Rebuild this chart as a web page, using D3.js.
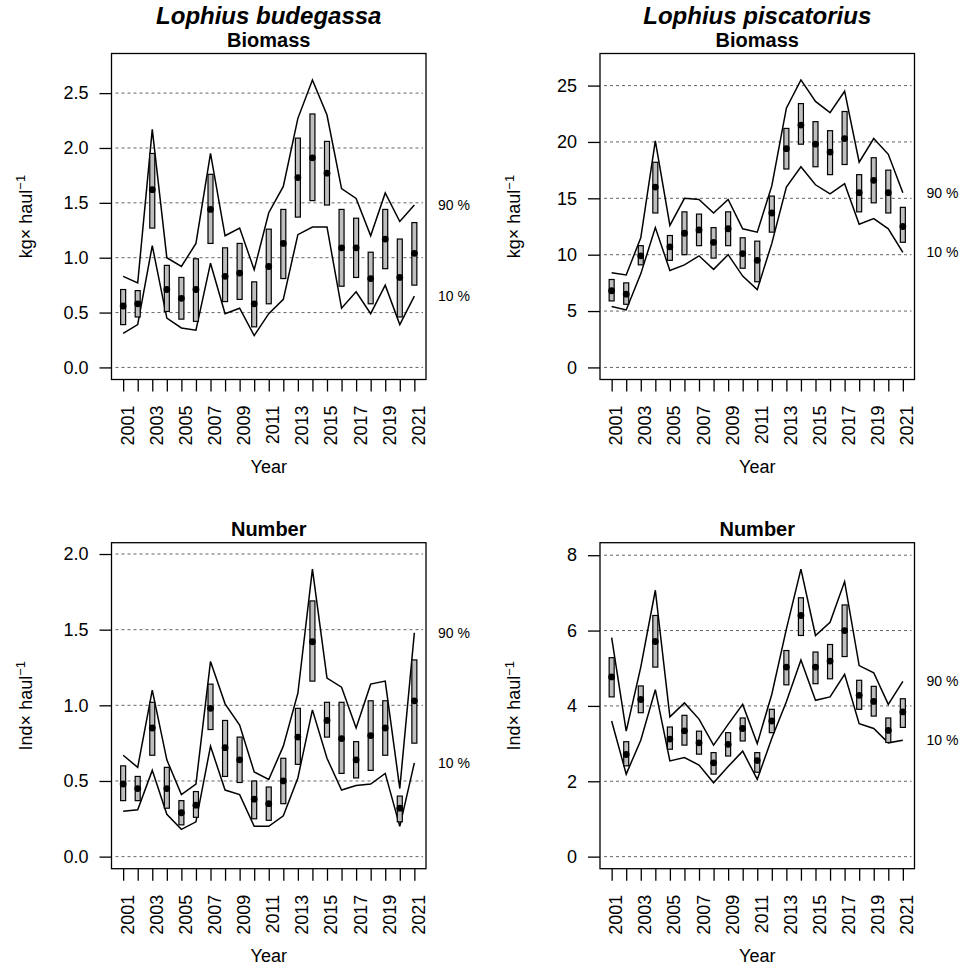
<!DOCTYPE html>
<html>
<head>
<meta charset="utf-8">
<script src="https://cdn.jsdelivr.net/npm/d3@7"></script>
<style>
  body { margin: 0; background: #fff; }
  text { font-family: "Liberation Sans", Arial, sans-serif; fill: #000; }
</style>
</head>
<body>
<script>
const w = 962
const h = 967

const years = d3.range(2001, 2022)
const yearLabels = years.filter(y => y % 2 === 1)

// Lophius budegassa - biomass
const budBioMean = [0.56,0.58,1.62,0.71,0.63,0.71,1.44,0.83,0.86,0.58,0.92,1.13,1.73,1.91,1.77,1.09,1.09,0.81,1.17,0.82,1.04]
const budBioLo   = [0.39,0.46,1.27,0.51,0.44,0.42,1.13,0.60,0.62,0.37,0.58,0.81,1.37,1.52,1.48,0.74,0.82,0.58,0.90,0.46,0.75]
const budBioHi   = [0.71,0.70,1.95,0.93,0.82,0.99,1.76,1.09,1.13,0.78,1.26,1.44,2.09,2.31,2.06,1.44,1.36,1.05,1.44,1.17,1.32]
const budBioP10  = [0.31,0.39,1.11,0.45,0.36,0.34,0.95,0.49,0.54,0.29,0.49,0.62,1.21,1.28,1.28,0.54,0.69,0.49,0.75,0.39,0.65]
const budBioP90  = [0.83,0.77,2.17,1.00,0.92,1.13,1.95,1.20,1.27,0.89,1.41,1.65,2.27,2.62,2.30,1.63,1.54,1.20,1.59,1.33,1.48]

// Lophius piscatorius - biomass
const pisBioMean = [6.8,6.5,9.9,16.0,10.7,11.9,12.2,11.1,12.3,10.1,9.5,13.7,19.4,21.5,19.8,19.1,20.3,15.5,16.6,15.5,12.5]
const pisBioLo   = [5.9,5.6,9.1,13.7,9.5,10.0,10.8,9.7,10.8,8.8,7.6,12.0,17.6,19.8,17.8,17.1,18.0,13.8,14.6,13.7,11.1]
const pisBioHi   = [7.8,7.5,10.8,18.2,11.7,13.8,13.6,12.4,13.8,11.5,11.2,15.2,21.2,23.4,21.8,21.0,22.7,17.1,18.6,17.5,14.2]
const pisBioP10  = [5.4,5.1,8.3,12.4,8.6,9.1,9.9,8.7,10.0,8.1,6.9,11.0,16.0,17.8,16.2,15.4,16.3,12.7,13.2,12.3,10.2]
const pisBioP90  = [8.4,8.2,11.5,20.1,12.6,15.0,14.9,13.7,14.9,12.3,12.0,16.1,23.0,25.5,23.6,22.6,24.5,18.2,20.3,18.9,15.5]

// Lophius budegassa - number
const budNumMean = [0.48,0.45,0.85,0.45,0.29,0.34,0.98,0.72,0.64,0.38,0.35,0.50,0.79,1.42,0.90,0.78,0.64,0.80,0.85,0.32,1.03]
const budNumLo   = [0.37,0.37,0.67,0.32,0.21,0.26,0.84,0.53,0.49,0.25,0.24,0.35,0.61,1.16,0.79,0.55,0.52,0.57,0.67,0.23,0.75]
const budNumHi   = [0.60,0.53,1.02,0.59,0.37,0.43,1.14,0.90,0.79,0.50,0.46,0.65,0.98,1.69,1.02,1.02,0.76,1.03,1.03,0.40,1.30]
const budNumP10  = [0.30,0.31,0.57,0.28,0.18,0.23,0.73,0.44,0.41,0.20,0.20,0.27,0.52,0.97,0.65,0.44,0.47,0.48,0.55,0.20,0.62]
const budNumP90  = [0.67,0.59,1.10,0.64,0.41,0.48,1.29,1.01,0.87,0.56,0.51,0.73,1.08,1.90,1.18,1.12,0.85,1.14,1.16,0.45,1.48]

// Lophius piscatorius - number
const pisNumMean = [4.77,2.71,4.17,5.71,3.12,3.34,3.02,2.49,2.98,3.40,2.55,3.60,5.03,6.40,5.03,5.19,6.00,4.28,4.12,3.35,3.84]
const pisNumLo   = [4.24,2.41,3.82,5.03,2.85,2.96,2.72,2.19,2.67,3.07,2.24,3.29,4.56,5.87,4.59,4.72,5.31,3.91,3.73,3.03,3.43]
const pisNumHi   = [5.28,3.05,4.53,6.40,3.44,3.75,3.33,2.76,3.29,3.68,2.76,3.91,5.47,6.87,5.43,5.63,6.68,4.68,4.52,3.68,4.19]
const pisNumP10  = [3.60,2.19,3.09,4.43,2.54,2.63,2.43,1.96,2.39,2.80,2.05,3.14,4.11,5.22,4.15,4.24,4.84,3.53,3.40,3.02,3.09]
const pisNumP90  = [5.81,3.33,5.03,7.07,3.71,4.08,3.65,2.96,3.51,4.04,3.00,4.31,6.04,7.63,5.87,6.22,7.30,5.07,4.88,4.04,4.65]

const species = ["Lophius budegassa", "Lophius piscatorius"]
const subtitles = ["Biomass", "Number"]
const yUnits = ["kg", "Ind"]
const yTicks = [
  [[0, 0.5, 1, 1.5, 2, 2.5], [0, 5, 10, 15, 20, 25]],
  [[0, 0.5, 1, 1.5, 2], [0, 2, 4, 6, 8]]
]
const yFormats = [".1f", "d"]

const panels = [
  {row: 0, col: 0, mean: budBioMean, lo: budBioLo, hi: budBioHi, p10: budBioP10, p90: budBioP90},
  {row: 0, col: 1, mean: pisBioMean, lo: pisBioLo, hi: pisBioHi, p10: pisBioP10, p90: pisBioP90},
  {row: 1, col: 0, mean: budNumMean, lo: budNumLo, hi: budNumHi, p10: budNumP10, p90: budNumP90},
  {row: 1, col: 1, mean: pisNumMean, lo: pisNumLo, hi: pisNumHi, p10: pisNumP10, p90: pisNumP90}
]

// plot region of each cell (measured from the layout)
const colX = [111.5, 600]
const rowY = [53.5, 542.7]
const boxW = 314.5
const boxH = 326

const svg = d3.select("body")
  .append("svg")
  .attr("width", w)
  .attr("height", h)

const drawPanel = p => {
  const x0 = colX[p.col], y0 = rowY[p.row]
  const g = svg.append("g").attr("transform", `translate(${x0},${y0})`)

  // R style: x range padded by 4 %, y limits 0 .. 1.05*max then padded by 4 %
  const xPad = (years[years.length - 1] - years[0]) * 0.04
  const x = d3.scaleLinear()
    .domain([years[0] - xPad, years[years.length - 1] + xPad])
    .range([0, boxW])
  const yMax = d3.max(p.p90) * 1.05
  const y = d3.scaleLinear()
    .domain([-yMax * 0.04, yMax * 1.04])
    .range([boxH, 0])

  const ticks = yTicks[p.row][p.col]

  // dotted reference lines
  g.selectAll(".grid")
    .data(ticks)
    .enter()
    .append("line")
      .attr("x1", 4).attr("x2", boxW - 3)
      .attr("y1", d => y(d)).attr("y2", d => y(d))
      .attr("stroke", "#666")
      .attr("stroke-width", 1)
      .attr("stroke-dasharray", "3,3")

  // y axis
  const yAxis = d3.axisLeft(y)
    .tickValues(ticks)
    .tickFormat(d3.format(yFormats[p.col]))
    .tickSize(12)
    .tickPadding(11)
  const ya = g.append("g").call(yAxis)
  ya.select(".domain").remove()
  ya.selectAll("line").attr("stroke", "#000").attr("stroke-width", 1.3)
  ya.selectAll("text")
    .style("font-size", "18px")
    .style("font-family", "Liberation Sans, Arial, sans-serif")
    .attr("fill", "#000")

  // x axis
  const xAxis = d3.axisBottom(x)
    .tickValues(years)
    .tickSize(12)
    .tickFormat(d => yearLabels.includes(d) ? d : "")
  const xa = g.append("g").attr("transform", `translate(0,${boxH})`).call(xAxis)
  xa.select(".domain").remove()
  xa.selectAll("line").attr("stroke", "#000").attr("stroke-width", 1.3)
  xa.selectAll("text")
    .attr("transform", "rotate(-90)")
    .attr("text-anchor", "end")
    .attr("x", -26)
    .attr("y", 0)
    .attr("dy", "10px")
    .style("font-size", "18px")
    .style("font-family", "Liberation Sans, Arial, sans-serif")
    .attr("fill", "#000")

  // 10 % and 90 % lines
  const line = d3.line()
    .x((d, i) => x(years[i]))
    .y(d => y(d))
  ;[p.p10, p.p90].forEach(arr => {
    g.append("path")
      .attr("d", line(arr))
      .attr("fill", "none")
      .attr("stroke", "#000")
      .attr("stroke-width", 1.5)
  })

  // boxes
  g.selectAll(".bx")
    .data(years)
    .enter()
    .append("rect")
      .attr("x", d => x(d) - 2.5)
      .attr("width", 5)
      .attr("y", (d, i) => y(p.hi[i]))
      .attr("height", (d, i) => y(p.lo[i]) - y(p.hi[i]))
      .attr("fill", "#bebebe")
      .attr("stroke", "#000")
      .attr("stroke-width", 1.2)

  // means
  g.selectAll(".pt")
    .data(years)
    .enter()
    .append("circle")
      .attr("cx", d => x(d))
      .attr("cy", (d, i) => y(p.mean[i]))
      .attr("r", 3.4)
      .attr("fill", "#000")

  // frame
  g.append("rect")
    .attr("width", boxW)
    .attr("height", boxH)
    .attr("fill", "none")
    .attr("stroke", "#000")
    .attr("stroke-width", 1.3)

  // percentile labels at the line ends
  const last = years.length - 1
  ;[["90 %", p.p90[last]], ["10 %", p.p10[last]]].forEach(([lab, v]) => {
    g.append("text")
      .attr("x", boxW + 12)
      .attr("y", y(v))
      .attr("dy", "0.35em")
      .style("font-size", "14px")
      .attr("fill", "#222")
      .text(lab)
  })

  // titles
  if (p.row === 0) {
    g.append("text")
      .attr("x", boxW / 2)
      .attr("y", -30)
      .attr("text-anchor", "middle")
      .style("font-size", "24px")
      .style("font-weight", "bold")
      .style("font-style", "italic")
      .text(species[p.col])
  }
  g.append("text")
    .attr("x", boxW / 2)
    .attr("y", -6.5)
    .attr("text-anchor", "middle")
    .style("font-size", "20px")
    .style("font-weight", "bold")
    .text(subtitles[p.row])

  g.append("text")
    .attr("x", boxW / 2)
    .attr("y", boxH + 93.5)
    .attr("text-anchor", "middle")
    .style("font-size", "18px")
    .text("Year")

  const yl = g.append("text")
    .attr("transform", `translate(-80,${boxH / 2}) rotate(-90)`)
    .attr("text-anchor", "middle")
    .style("font-size", "18px")
  yl.append("tspan").text(yUnits[p.row] + "\u00d7 haul")
  yl.append("tspan")
    .attr("dy", "-0.5em")
    .style("font-size", "13px")
    .text("\u22121")
}

panels.forEach(drawPanel)
</script>
</body>
</html>
